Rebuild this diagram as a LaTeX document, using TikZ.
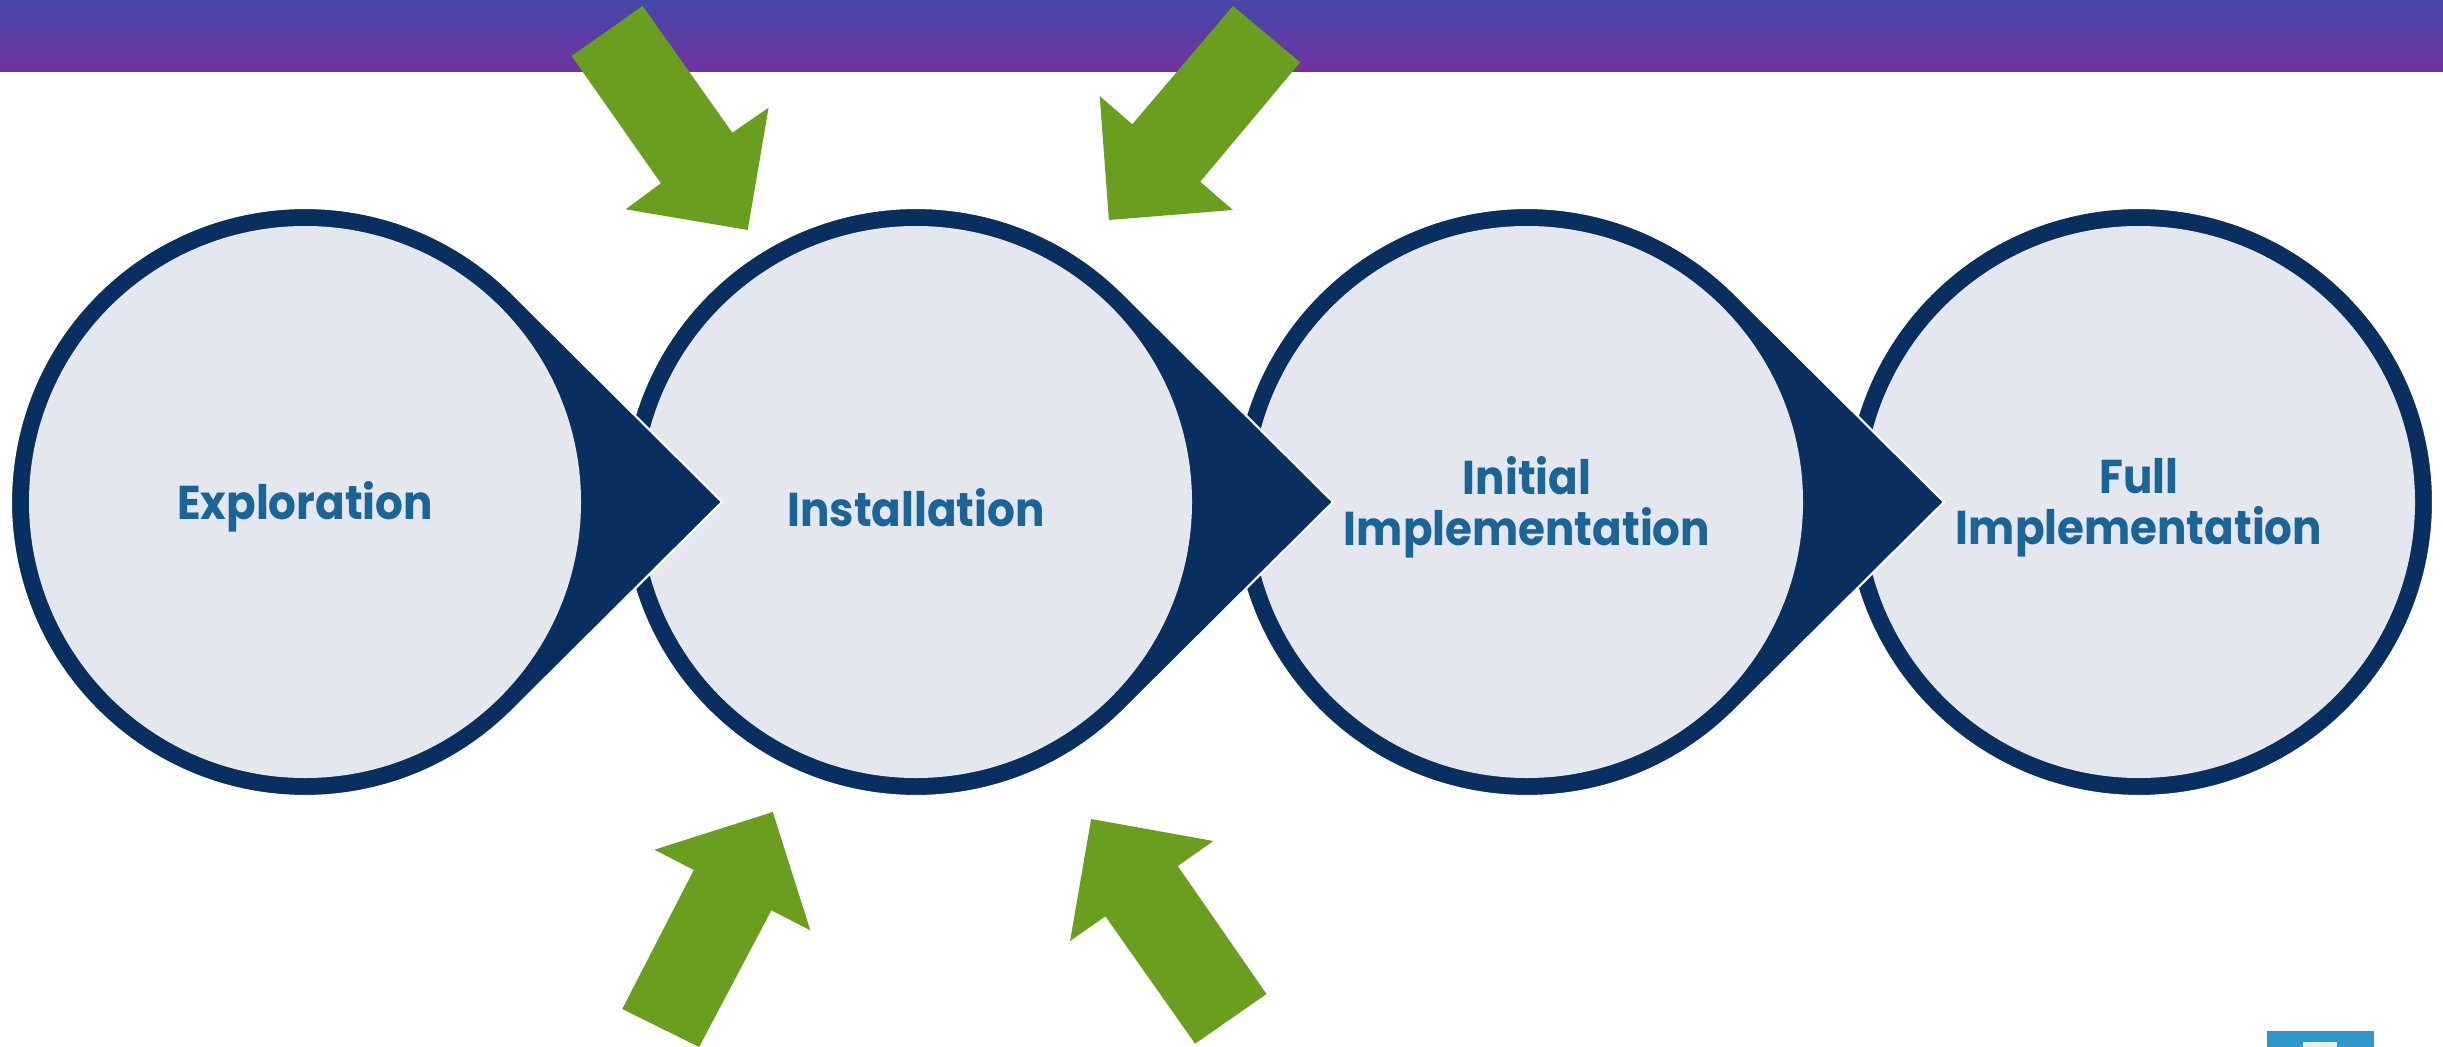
\documentclass[tikz,border=0pt]{standalone}
\usepackage{fontspec}
\setmainfont{Poppins}[FakeStretch=0.92]
\usepackage{tikz}
\definecolor{navy}{HTML}{082F5F}
\definecolor{stagefill}{HTML}{E4E8EE}
\definecolor{stagetext}{HTML}{1B6497}
\definecolor{leafgreen}{HTML}{6A9E1F}
\definecolor{bartop}{HTML}{4448A8}
\definecolor{barbot}{HTML}{7232A0}
\definecolor{badge}{HTML}{2E96C8}
\tikzstyle{stage}=[circle,minimum size=55.2mm,inner sep=0pt,
  text=stagetext,align=center,font=\bfseries\fontsize{13.5}{14.5}\selectfont]
\tikzstyle{ring}=[fill=navy,draw=white,line width=.6pt]
\tikzstyle{push}=[fill=leafgreen]
% navy ring with its pointer to the right, and the pale face inside
\newcommand\teardrop[1]{\path[ring,shift={(#1)}] (417,0) -- (45:294)
  arc[start angle=45,end angle=315,radius=294] -- cycle;
  \fill[stagefill] (#1) circle[radius=276];}

\begin{document}
\begin{tikzpicture}[x=0.1mm,y=-0.1mm]
	\useasboundingbox (0,0) rectangle (2443,1047);
	\shade[top color=bartop,bottom color=barbot] (0,0) rectangle (2443,72);
	\coordinate (c1) at (305,502);
	\coordinate (c2) at (916,502);
	\coordinate (c3) at (1527,502);
	\coordinate (c4) at (2139,502);
	% stages, right to left so each pointer lies on the next ring
	\path[ring] (c4) circle[radius=294];
	\fill[stagefill] (c4) circle[radius=276];
	\node[stage] (full) at ([yshift=-1.5pt]c4) {Full\\Implementation};
	\teardrop{c3}
	\node[stage] (init) at ([yshift=-1.5pt]c3) {Initial\\Implementation};
	\teardrop{c2}
	\node[stage] (inst) at ([yshift=-1.5pt]c2) {Installation};
	\teardrop{c1}
	\node[stage] (expl) at ([yshift=-1.5pt]c1) {Exploration};
	% green pushes
	\fill[push] (571.6,56) -- (642.6,6) -- (732.3,132.7) -- (768.6,107.7)
		-- (747.7,230) -- (625.7,209.3) -- (660.9,183.3) -- cycle;
	\fill[push] (1232.9,6) -- (1300.2,62.3) -- (1200.2,181.7) -- (1232.9,210)
		-- (1108.9,220) -- (1099.7,96) -- (1132.3,124.3) -- cycle;
	\fill[push] (622.3,1009) -- (699.1,1047) -- (771.4,910.3) -- (810.3,930.3)
		-- (772.8,812) -- (654.5,849.7) -- (693.8,870) -- cycle;
	\fill[push] (1091.1,819) -- (1213.4,841) -- (1177.7,866) -- (1266.5,994)
		-- (1195.1,1043.7) -- (1105.4,916.3) -- (1070.1,941) -- cycle;
	% badge, cut off at the bottom
	\fill[badge] (2267,1031) rectangle (2373.7,1047);
	\fill[white!85!badge] (2302.7,1042.3) rectangle (2337.3,1047);
\end{tikzpicture}
\end{document}
